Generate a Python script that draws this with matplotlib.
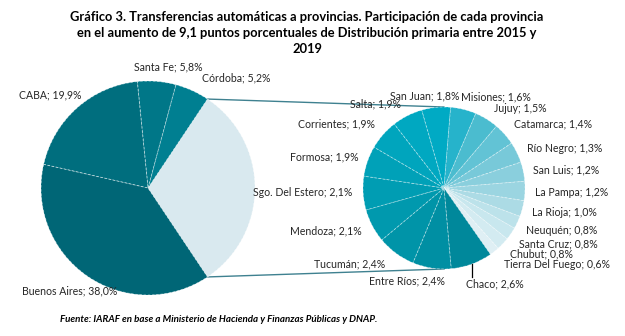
import matplotlib
matplotlib.use("Agg")
import matplotlib.pyplot as plt
import numpy as np

# ---------------- data ----------------
left_labels = ["Otras", "Córdoba", "Santa Fe", "CABA", "Buenos Aires"]
left_values = [31.3, 5.2, 5.8, 19.9, 38.0]

right_labels = ["San Juan", "Misiones", "Jujuy", "Catamarca", "Río Negro", "San Luis",
                "La Pampa", "La Rioja", "Neuquén", "Santa Cruz", "Chubut",
                "Tierra Del Fuego", "Chaco", "Entre Ríos", "Tucumán", "Mendoza",
                "Sgo. Del Estero", "Formosa", "Corrientes", "Salta"]
right_values = [1.8, 1.6, 1.5, 1.4, 1.3, 1.2, 1.2, 1.0, 0.8, 0.8, 0.8, 0.6,
                2.6, 2.4, 2.4, 2.1, 2.1, 1.9, 1.9, 1.9]

title = ("Gráfico 3. Transferencias automáticas a provincias. Participación de cada provincia\n"
         "en el aumento de 9,1 puntos porcentuales de Distribución primaria entre 2015 y\n2019")
source = "Fuente: IARAF en base a Ministerio de Hacienda y Finanzas Públicas y DNAP."

# ---------------- styles ----------------
left_colors = ["#d9e9ef", "#007f91", "#007788", "#006e7e", "#006676"]
right_colors = ["#00aac4", "#26b3cb", "#4bbccf", "#62c3d5", "#78c9d9", "#8acfdd",
                "#9bd5e1", "#acdbe5", "#bce2ea", "#c8e7ee", "#d3ebf1", "#dfeff4",
                "#00889b", "#008fa3", "#0094a8", "#0099ae", "#009db3", "#00a1b8",
                "#00a5bd", "#00a8c1"]

W, H = 625, 336
fig = plt.figure(figsize=(W / 100, H / 100), dpi=100)
ax = fig.add_axes([0, 0, 1, 1])

font = "Lato"
txtc = "#262626"

def py(y):  # pixel-from-top -> data y
    return H - y

lc, lr = (148, py(188)), 107
rc, rr = (444, py(188)), 81

other_angle = left_values[0] / sum(left_values) * 360
left_start = -other_angle / 2
wl, _ = ax.pie(left_values, colors=left_colors, center=lc, radius=lr,
               startangle=left_start, counterclock=True, frame=True,
               wedgeprops=dict(edgecolor=(1, 1, 1, 0.55), linewidth=0.6, linestyle=(0, (3, 2))))

wr, _ = ax.pie(right_values, colors=right_colors, center=rc, radius=rr,
               startangle=106, counterclock=False, frame=True,
               wedgeprops=dict(edgecolor=(1, 1, 1, 0.45), linewidth=0.6, linestyle=(0, (3, 2))))
ax.set_xlim(0, W)
ax.set_ylim(0, H)
ax.set_aspect("equal")
ax.axis("off")

# connector lines
a1 = np.deg2rad(wl[0].theta2)
a0 = np.deg2rad(wl[0].theta1)
p_top = (lc[0] + lr * np.cos(a1), lc[1] + lr * np.sin(a1))
p_bot = (lc[0] + lr * np.cos(a0), lc[1] + lr * np.sin(a0))
ax.plot([p_top[0], rc[0]], [p_top[1], rc[1] + rr], color="#3f8190", lw=1.0, zorder=0.5)
ax.plot([p_bot[0], rc[0]], [p_bot[1], rc[1] - rr], color="#3f8190", lw=1.0, zorder=0.5)

def fmt(name, v):
    return f"{name}; " + f"{v:.1f}%".replace(".", ",")

# label centres (pixels from top-left)
left_pos = {"Córdoba": (236, 78), "Santa Fe": (168, 67), "CABA": (50, 95),
            "Buenos Aires": (70, 291)}
for name, v in zip(left_labels, left_values):
    if name in left_pos:
        x, y = left_pos[name]
        ax.text(x, py(y), fmt(name, v), ha="center", va="center", fontsize=7.6,
                family=font, color=txtc)

right_pos = {"San Juan": (425, 96), "Misiones": (496, 97), "Jujuy": (520, 108),
             "Catamarca": (553, 124), "Río Negro": (565, 148), "San Luis": (566, 170),
             "La Pampa": (572, 193), "La Rioja": (564, 213), "Neuquén": (562, 231),
             "Santa Cruz": (558, 244), "Chubut": (541, 254), "Tierra Del Fuego": (557, 264),
             "Chaco": (495, 284), "Entre Ríos": (407, 281), "Tucumán": (350, 264),
             "Mendoza": (326, 231), "Sgo. Del Estero": (303, 193), "Formosa": (324, 157),
             "Corrientes": (337, 124), "Salta": (375, 104)}
for name, v in zip(right_labels, right_values):
    x, y = right_pos[name]
    ax.text(x, py(y), fmt(name, v), ha="center", va="center", fontsize=7.6,
            family=font, color=txtc, zorder=5)

# Chaco leader line
ic = right_labels.index("Chaco")
w = wr[ic]
am = np.deg2rad((w.theta1 + w.theta2) / 2)
lx = rc[0] + rr * np.cos(am)
ly = rc[1] + rr * np.sin(am)
ax.plot([lx, lx], [ly, py(277)], color="black", lw=0.9)

ax.text(307, py(33), title, ha="center", va="center", fontsize=9.3, family=font,
        fontweight="bold", color="black", linespacing=1.4)
ax.text(60, py(320), source, ha="left", va="center", fontsize=7.0, family=font,
        style="italic", fontweight="bold", color="black")

fig.savefig("out.png", dpi=100)
